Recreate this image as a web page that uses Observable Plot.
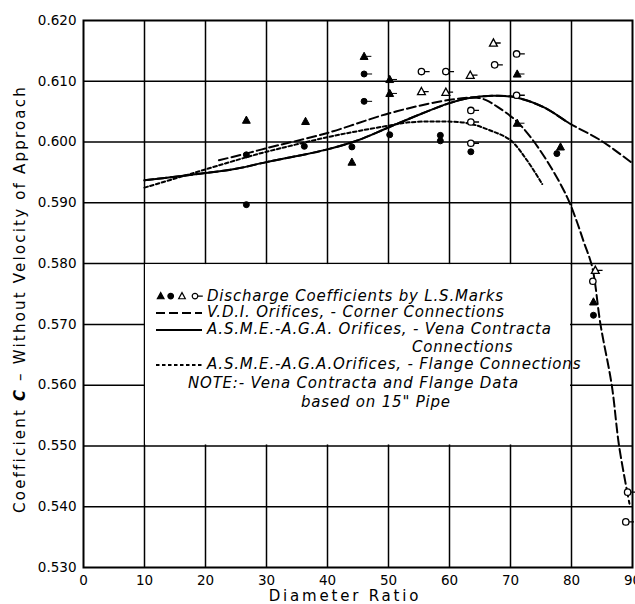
<!DOCTYPE html>
<html><head><meta charset="utf-8">
<script src="https://cdn.jsdelivr.net/npm/d3@7"></script>
<script src="https://cdn.jsdelivr.net/npm/@observablehq/plot@0.6"></script>
<style>
body{margin:0;background:#fff;}
#wrap{position:relative;width:635px;height:604px;overflow:hidden;}
</style></head><body><div id="wrap"></div>
<script>
// ---------- data ----------
const xTicks = [0, 10, 20, 30, 40, 50, 60, 70, 80, 90];
const yTicks = [0.530, 0.540, 0.550, 0.560, 0.570, 0.580, 0.590, 0.600, 0.610, 0.620];
const xGrid = [10, 20, 30, 40, 50, 60, 70, 80];
const yGrid = [0.540, 0.550, 0.560, 0.570, 0.580, 0.590, 0.600, 0.610];

// [diameter ratio, coefficient, has flag]
const filledTriangles = [
  [26.7, 0.6036, 0], [36.4, 0.6034, 0], [44.0, 0.5967, 0], [46.0, 0.6141, 1],
  [50.2, 0.6103, 1], [50.2, 0.6080, 1], [71.1, 0.6112, 1], [71.1, 0.6031, 1],
  [78.2, 0.5992, 0], [83.6, 0.5737, 0]
];
const filledCircles = [
  [26.7, 0.5979, 0], [26.7, 0.5897, 0], [36.2, 0.5993, 0], [44.0, 0.5992, 0],
  [46.0, 0.6112, 1], [46.0, 0.6067, 1], [50.2, 0.6012, 0], [58.5, 0.6011, 0],
  [58.5, 0.6002, 0], [63.5, 0.5984, 0], [77.6, 0.5981, 0], [83.6, 0.5715, 0]
];
const openTriangles = [
  [55.4, 0.6083, 1], [59.4, 0.6082, 1], [63.4, 0.6110, 1], [67.2, 0.6163, 1],
  [83.9, 0.5789, 1]
];
const openCircles = [
  [55.4, 0.6116, 1], [59.4, 0.6116, 1], [63.5, 0.6052, 1], [63.5, 0.6033, 1],
  [63.5, 0.5998, 1], [67.4, 0.6127, 1], [71.0, 0.6145, 1], [71.0, 0.6077, 1],
  [83.5, 0.5771, 0], [89.2, 0.5424, 1], [88.9, 0.5375, 1]
];

// V.D.I. Orifices, corner connections
const vdiCurve = [
  [22.2, 0.5970], [27.4, 0.5983], [30, 0.5990], [40, 0.6015], [50, 0.6047],
  [58, 0.6066], [62, 0.6072], [64.5, 0.6073], [66, 0.6069], [68, 0.6057],
  [70.8, 0.6036], [73.3, 0.6008], [76.6, 0.5959], [79.3, 0.5909], [80.7, 0.5874],
  [82, 0.5836], [83.4, 0.5794], [84.75, 0.5700], [86.6, 0.5600], [87.8, 0.5500],
  [89.5, 0.5405]
];
// A.S.M.E.-A.G.A. vena contracta: solid up to venaSolidEnd, dashed beyond
const venaCurve = [
  [10, 0.5937], [15, 0.5943], [20, 0.5949], [25, 0.5956], [30, 0.5967],
  [35, 0.5977], [40, 0.5988], [45, 0.6003], [50, 0.6024], [55, 0.6045],
  [60, 0.6064], [63, 0.6072], [67, 0.6076], [70.6, 0.6074], [75.5, 0.6057],
  [79.8, 0.6030], [84.75, 0.6003], [90, 0.5965]
];
const venaSolidEnd = 79.3;
// A.S.M.E.-A.G.A. flange connections
const flangeCurve = [
  [10, 0.5925], [15, 0.5940], [20, 0.5955], [27.4, 0.5977], [30, 0.5984],
  [40, 0.6008], [45, 0.6018], [50, 0.6027], [53, 0.6032], [58, 0.6034],
  [63, 0.6031], [66.7, 0.6019], [70, 0.6003], [72.7, 0.5970], [75.2, 0.5931]
];

const legendLines = [
  "Discharge Coefficients by L.S.Marks",
  "V.D.I. Orifices, - Corner Connections",
  "A.S.M.E.-A.G.A. Orifices, - Vena Contracta",
  "Connections",
  "A.S.M.E.-A.G.A.Orifices, - Flange Connections",
  "NOTE:- Vena Contracta and Flange Data",
  "based on 15\" Pipe"
];

// ---------- helpers ----------
const pts = arr => arr.map(([d, c, f]) => ({d, c, f}));
const crv = arr => arr.map(([d, c]) => ({d, c}));

function makeSymbol(kind, flag) {
  return {
    draw(ctx, size) {
      const r = Math.sqrt(size / Math.PI);
      let fx;
      if (kind === "circle") {
        ctx.moveTo(r, 0);
        ctx.arc(0, 0, r, 0, 2 * Math.PI);
        fx = r;
      } else {
        const h = r * 1.25;
        ctx.moveTo(0, -h);
        ctx.lineTo(h * 0.95, h * 0.75);
        ctx.lineTo(-h * 0.95, h * 0.75);
        ctx.closePath();
        fx = h * 0.55;
      }
      if (flag) {
        ctx.moveTo(fx, 0);
        ctx.lineTo(fx + 5, 0);
      }
    }
  };
}

function dotMarks(data, kind, filled, r) {
  const rows = pts(data);
  const base = {x: "d", y: "c", r, stroke: "black", strokeWidth: filled ? 1 : 1.3, fill: filled ? "black" : "white"};
  return [
    Plot.dot(rows.filter(p => !p.f), {...base, symbol: makeSymbol(kind, false)}),
    Plot.dot(rows.filter(p => p.f), {...base, symbol: makeSymbol(kind, true)})
  ];
}

const chart = Plot.plot({
  width: 635,
  height: 604,
  marginTop: 20,
  marginBottom: 37,
  marginLeft: 83,
  marginRight: 3,
  style: {fontFamily: "'DejaVu Sans', sans-serif", fontSize: "13.5px", color: "black", background: "white"},
  x: {domain: [0, 90], label: null},
  y: {domain: [0.530, 0.620], label: null},
  marks: [
    Plot.gridX(xGrid, {stroke: "black", strokeOpacity: 1, strokeWidth: 1.5}),
    Plot.gridY(yGrid, {stroke: "black", strokeOpacity: 1, strokeWidth: 1.5}),
    Plot.frame({stroke: "black", strokeWidth: 2}),
    Plot.axisX({ticks: xTicks, tickSize: 0, tickPadding: 8, label: null}),
    Plot.axisY({ticks: yTicks, tickSize: 0, tickPadding: 7, tickFormat: d3.format(".3f"), label: null}),
    Plot.line(crv(flangeCurve), {x: "d", y: "c", curve: "catmull-rom", stroke: "black", strokeWidth: 2, strokeDasharray: "3.5,2.5"}),
    Plot.line(crv(vdiCurve), {x: "d", y: "c", curve: "catmull-rom", stroke: "black", strokeWidth: 2, strokeDasharray: "9,4"}),
    Plot.line(crv(venaCurve), {x: "d", y: "c", curve: "catmull-rom", stroke: "black", strokeWidth: 2, strokeDasharray: "9,4", ariaDescription: "vena-dashed"}),
    Plot.line(crv(venaCurve), {x: "d", y: "c", curve: "catmull-rom", stroke: "black", strokeWidth: 2, ariaDescription: "vena-solid"}),
    ...dotMarks(filledTriangles, "triangle", true, 3.3),
    ...dotMarks(filledCircles, "circle", true, 3),
    ...dotMarks(openTriangles, "triangle", false, 3.3),
    ...dotMarks(openCircles, "circle", false, 3.2)
  ]
});

document.getElementById("wrap").appendChild(chart);

const svg = d3.select(chart);
const sx = chart.scale("x"), sy = chart.scale("y");

// limit the solid vena contracta line to its measured range
(function () {
  const p = svg.select('g[aria-description="vena-solid"] path').node();
  if (!p || !p.getTotalLength) return;
  const total = p.getTotalLength();
  const target = sx.apply(venaSolidEnd);
  let lo = 0, hi = total;
  for (let i = 0; i < 40; i++) {
    const mid = (lo + hi) / 2;
    if (p.getPointAtLength(mid).x < target) lo = mid; else hi = mid;
  }
  p.setAttribute("stroke-dasharray", `${lo} ${total + 10}`);
})();

// ---------- axis titles ----------
const yl = svg.append("text")
  .attr("transform", `translate(25,299) rotate(-90)`)
  .attr("text-anchor", "middle")
  .style("font-family", "'DejaVu Sans', sans-serif")
  .style("font-size", "15px")
  .style("letter-spacing", "2.2px")
  .attr("fill", "black");
yl.append("tspan").text("Coefficient ");
yl.append("tspan").text("C").style("font-weight", "bold").style("font-style", "italic");
yl.append("tspan").text(" \u2013 Without Velocity of Approach");

svg.append("text")
  .attr("x", 345).attr("y", 601)
  .attr("text-anchor", "middle")
  .style("font-family", "'DejaVu Sans', sans-serif")
  .style("font-size", "15px")
  .style("letter-spacing", "2.8px")
  .attr("fill", "black")
  .text("Diameter Ratio");

// ---------- legend box ----------
const bx0 = sx.apply(10) + 1, bx1 = sx.apply(80) - 1;
const by0 = sy.apply(0.58) + 1, by1 = sy.apply(0.55) - 1;
const g = svg.append("g").attr("transform", `translate(${bx0},${by0})`);
g.append("rect").attr("width", bx1 - bx0).attr("height", by1 - by0).attr("fill", "white");

const legendSyms = [
  ["triangle", true, false, 15.7], ["circle", true, false, 25.7],
  ["triangle", false, false, 37], ["circle", false, true, 50]
];
legendSyms.forEach(([kind, filled, flag, x]) => {
  g.append("path")
    .attr("d", d3.symbol(makeSymbol(kind, flag), 2.8 * 2.8 * Math.PI)())
    .attr("transform", `translate(${x},32)`)
    .attr("fill", filled ? "black" : "white")
    .attr("stroke", "black").attr("stroke-width", 1.2);
});
[[49, "9,4"], [66, null], [101, "3.5,2.5"]].forEach(([y, dash]) => {
  const l = g.append("line").attr("x1", 11).attr("x2", 57).attr("y1", y).attr("y2", y)
    .attr("stroke", "black").attr("stroke-width", 2);
  if (dash) l.attr("stroke-dasharray", dash);
});
const lpos = [[62, 37], [62, 53], [62, 70], [267, 88], [62, 105], [43, 124], [156, 143]];
legendLines.forEach((t, i) => {
  g.append("text")
    .attr("x", lpos[i][0]).attr("y", lpos[i][1])
    .attr("text-anchor", "start")
    .style("font-family", "'DejaVu Sans', sans-serif")
    .style("font-style", "italic")
    .style("font-size", "15px")
    .style("letter-spacing", "0.8px")
    .attr("fill", "black")
    .text(t);
});
</script></body></html>
